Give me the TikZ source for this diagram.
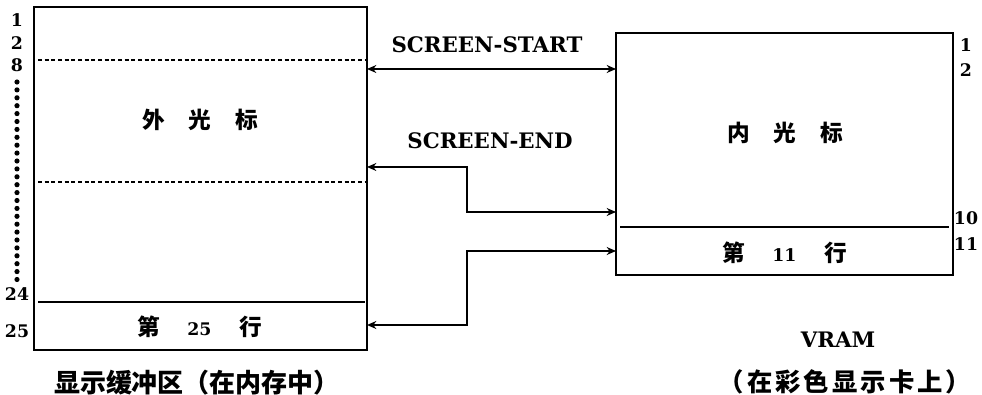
\documentclass[tikz,border=0pt]{standalone}
\usepackage{fontspec}
\setmainfont{DejaVu Serif}
\newfontfamily\cjk{Noto Sans CJK SC}
\newfontfamily\cjkwide{Noto Sans CJK SC}[LetterSpace=12]
\usetikzlibrary{arrows.meta}
\tikzset{
  num/.style={font=\bfseries\fontsize{13}{13}\selectfont, inner sep=0pt},
  lbl/.style={font=\bfseries\fontsize{16}{16}\selectfont, inner sep=0pt},
  cjktxt/.style={font=\cjk\bfseries\fontsize{17}{17}\selectfont, inner sep=0pt},
  caption/.style={font=\cjk\bfseries\fontsize{19.5}{19.5}\selectfont, inner sep=0pt},
  widecaption/.style={font=\cjkwide\bfseries\fontsize{19}{19}\selectfont, inner sep=0pt},
  memrect/.style={draw, rectangle, anchor=north west, inner sep=0pt, outer sep=0pt, line width=1.3pt},
  divline/.style={line width=1.1pt},
  dashline/.style={line width=0.9pt, dash pattern=on 3pt off 2pt},
  conn/.style={line width=1.1pt, {Stealth[length=7pt,width=6pt]}-{Stealth[length=7pt,width=6pt]}},
}
\newcommand{\rownum}[1]{{\rmfamily\bfseries\fontsize{13}{13}\selectfont #1}}
\begin{document}
\begin{tikzpicture}[x=0.75pt,y=-0.75pt]
\useasboundingbox (0,0) rectangle (982,395);
% boxes
\node[memrect, minimum width=249.75pt, minimum height=257.25pt] (buf) at (34,7) {};
\node[memrect, minimum width=252.75pt, minimum height=181.5pt] (vram) at (616,33) {};
% inner lines
\draw[dashline] (38,60) -- (365,60);
\draw[dashline] (38,182) -- (365,182);
\draw[divline] (38,302) -- (365,302);
\draw[divline] (620,227) -- (949,227);
% texts in boxes
\node[cjktxt] (outer) at (200,120) {外\hspace{1.05em}光\hspace{1.05em}标};
\node[cjktxt] (row25) at (200,327) {第\hspace{1.2em}\rownum{25}\hspace{1.25em}行};
\node[cjktxt] (inner) at (785,133) {内\hspace{1.05em}光\hspace{1.05em}标};
\node[cjktxt] (row11) at (785,253) {第\hspace{1.2em}\rownum{11}\hspace{1.25em}行};
% left row numbers
\node[num] (l1) at (17,20) {1};
\node[num] (l2) at (17,43) {2};
\node[num] (l8) at (17,65) {8};
\foreach \i in {0,...,25} {
  \fill (17,{82+\i*7.9}) circle (2.6);
}
\node[num] (l24) at (17,294) {24};
\node[num] (l25) at (17,331) {25};
% right row numbers
\node[num] (r1) at (966,45) {1};
\node[num] (r2) at (966,70) {2};
\node[num] (r10) at (966,218) {10};
\node[num] (r11) at (966,244) {11};
% labels
\node[lbl] (sstart) at (487,45) {SCREEN-START};
\node[lbl] (send) at (490,141) {SCREEN-END};
% connectors
\draw[conn] (buf.east |- 0,69) -- (vram.west |- 0,69);
\coordinate (j1a) at (467,167);
\coordinate (j1b) at (467,212);
\draw[conn] (buf.east |- j1a) -- (j1a) -- (j1b) -- (vram.west |- j1b);
\coordinate (j2a) at (467,325);
\coordinate (j2b) at (467,251);
\draw[conn] (buf.east |- j2a) -- (j2a) -- (j2b) -- (vram.west |- j2b);
% captions
\node[caption] (bufcap) at (197,383) {显示缓冲区（在内存中）};
\node[lbl] (vramlbl) at (838,340) {VRAM};
\node[widecaption] (vramcap) at (845,382) {（在彩色显示卡上）};
\end{tikzpicture}
\end{document}
